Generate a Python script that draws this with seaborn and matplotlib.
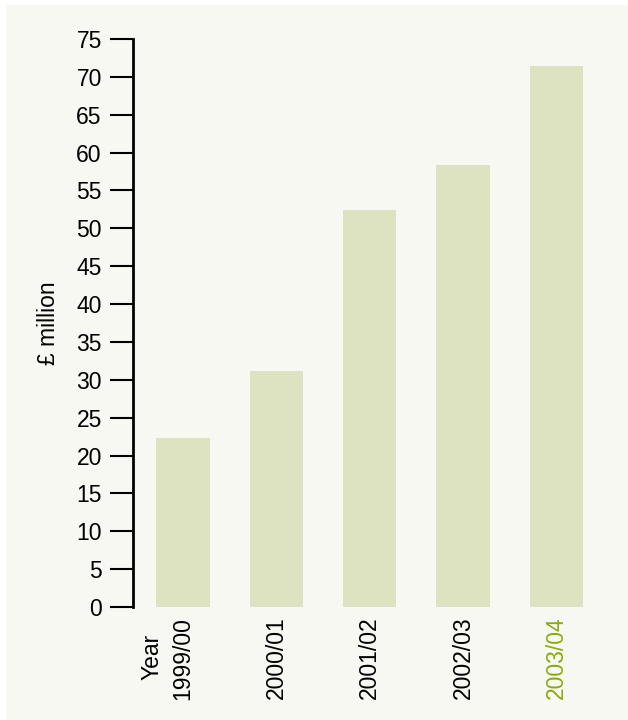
import seaborn as sns
import matplotlib.pyplot as plt
from matplotlib.patches import Rectangle

# Data
years = ["1999/00", "2000/01", "2001/02", "2002/03", "2003/04"]
spend = [22.3, 31.2, 52.4, 58.3, 71.5]
y_ticks = list(range(0, 80, 5))

bg = "#f8f8f3"
bar_color = "#dde3c1"
highlight = "#8aab10"

sns.set_theme(style="white")
plt.rcParams["font.family"] = ["Liberation Sans", "DejaVu Sans"]
plt.rcParams["text.color"] = "black"
plt.rcParams["axes.labelcolor"] = "black"
plt.rcParams["xtick.color"] = "black"
plt.rcParams["ytick.color"] = "black"

fig = plt.figure(figsize=(6.28, 7.2), dpi=100, facecolor="white")
# cream panel with a thin white strip at left and top
fig.patches.append(Rectangle((6 / 628, 0), 1, 1 - 5 / 720, transform=fig.transFigure,
                             facecolor=bg, edgecolor="none", zorder=-10))

ax = fig.add_axes([133 / 628, 1 - 607 / 720, 470 / 628, 568 / 720])
ax.patch.set_alpha(0)

sns.barplot(x=years, y=spend, color=bar_color, width=0.57, saturation=1,
            linewidth=0, edgecolor="none", ax=ax)

ax.set_ylim(0, 75)
ax.set_xlim(-0.535, 4.5)
ax.set_yticks(y_ticks)
ax.set_yticklabels([str(v) for v in y_ticks], fontsize=16.5)
ax.set_ylabel("£ million", fontsize=16.5, labelpad=12)

sns.despine(ax=ax, top=True, right=True, bottom=True)
ax.spines["left"].set_linewidth(2)
ax.spines["left"].set_color("black")
ax.tick_params(axis="y", length=16.5, width=1.5, color="black", pad=6, left=True)
ax.tick_params(axis="x", length=0, pad=7)

ax.set_xticks(range(len(years)))
ax.set_xticklabels(years, rotation=90, fontsize=16.5)
ax.get_xticklabels()[-1].set_color(highlight)
ax.set_xlabel("")

# "Year" caption beside the first label
ax.text(-0.33, -0.087, "Year", rotation=90, ha="center", va="center",
        fontsize=16.5, transform=ax.get_xaxis_transform())

plt.savefig("out.png", dpi=100, facecolor="white")
